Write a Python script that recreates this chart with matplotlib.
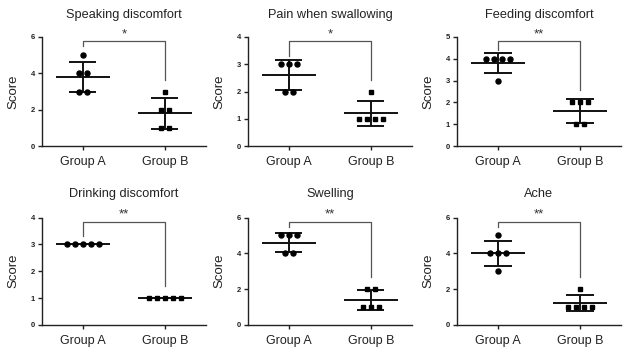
import matplotlib.pyplot as plt
import numpy as np

plt.rcParams['font.family'] = ['Liberation Sans', 'DejaVu Sans']

# scores per patient
titles = ["Speaking discomfort", "Pain when swallowing", "Feeding discomfort",
          "Drinking discomfort", "Swelling", "Ache"]
group_a = [[5, 4, 4, 3, 3], [3, 3, 3, 2, 2], [4, 4, 4, 4, 3],
           [3, 3, 3, 3, 3], [5, 5, 5, 4, 4], [5, 4, 4, 4, 3]]
group_b = [[3, 2, 2, 1, 1], [2, 1, 1, 1, 1], [2, 2, 2, 1, 1],
           [1, 1, 1, 1, 1], [2, 2, 1, 1, 1], [2, 1, 1, 1, 1]]
y_max = [6, 4, 5, 4, 6, 6]
y_step = [2, 1, 1, 1, 2, 2]
stars = ["*", "*", "**", "**", "**", "**"]
groups = ["Group A", "Group B"]


def swarm(vals, spacing=0.095):
    # spread equal values side by side
    vals = np.asarray(vals, float)
    xs = np.zeros(len(vals))
    for v in np.unique(vals):
        idx = np.where(vals == v)[0]
        n = len(idx)
        xs[idx] = (np.arange(n) - (n - 1) / 2) * spacing
    return xs


fig = plt.figure(figsize=(6.26, 3.52), dpi=100)
lefts = [0.067, 0.396, 0.730]
rows = [(0.585, 0.31, 1 - 15 / 352), (0.077, 0.305, 1 - 194 / 352)]

for i, title in enumerate(titles):
    bottom, height, ty = rows[i // 3]
    left = lefts[i % 3]
    ax = fig.add_axes([left, bottom, 0.262, height])

    for g, (vals, marker) in enumerate([(group_a[i], 'o'), (group_b[i], 's')]):
        vals = np.array(vals, float)
        m = vals.mean()
        sd = vals.std(ddof=1)
        ax.hlines(m, g - 0.33, g + 0.33, color='#111111', lw=1.4, zorder=2)
        ax.hlines([m - sd, m + sd], g - 0.165, g + 0.165, color='#111111', lw=1.4, zorder=2)
        ax.vlines(g, m - sd, m + sd, color='#111111', lw=1.4, zorder=2)
        ax.plot(g + swarm(vals), vals, linestyle='none', marker=marker,
                ms=3.6 if marker == 'o' else 3.3, color='black', zorder=3)

    # significance bracket
    top = y_max[i] * 0.96
    l_end = max(group_a[i]) + 0.08 * y_max[i]
    r_end = max(group_b[i]) + 0.11 * y_max[i]
    ax.plot([0, 0, 1, 1], [l_end, top, top, r_end], color='#555555', lw=0.9,
            clip_on=False, zorder=1)
    ax.text(0.5, top + 0.01 * y_max[i], stars[i], ha='center', va='bottom',
            fontsize=9.5, color='#333333')

    ax.set_xlim(-0.5, 1.5)
    ax.set_ylim(0, y_max[i])
    ax.set_yticks(np.arange(0, y_max[i] + 0.1, y_step[i]))
    ax.set_xticks([0, 1])
    ax.set_xticklabels(groups, fontsize=9, color='#222222')
    for lab in ax.get_yticklabels():
        lab.set_fontsize(5.5)
        lab.set_fontweight('bold')
    ax.tick_params(direction='out', length=3, width=1, colors='#222222')
    ax.tick_params(axis='x', pad=4)
    ax.tick_params(axis='y', pad=2)
    for s in ['top', 'right']:
        ax.spines[s].set_visible(False)
    for s in ['left', 'bottom']:
        ax.spines[s].set_linewidth(1.0)
        ax.spines[s].set_color('#222222')
    ax.set_ylabel("Score", fontsize=9.5, color='#222222')
    ax.yaxis.set_label_coords(-0.135, 0.5)

    fig.text(left + 0.131, ty, title, ha='center', va='center', fontsize=9.2,
             color='#222222')

fig.savefig("out.png", dpi=100)
